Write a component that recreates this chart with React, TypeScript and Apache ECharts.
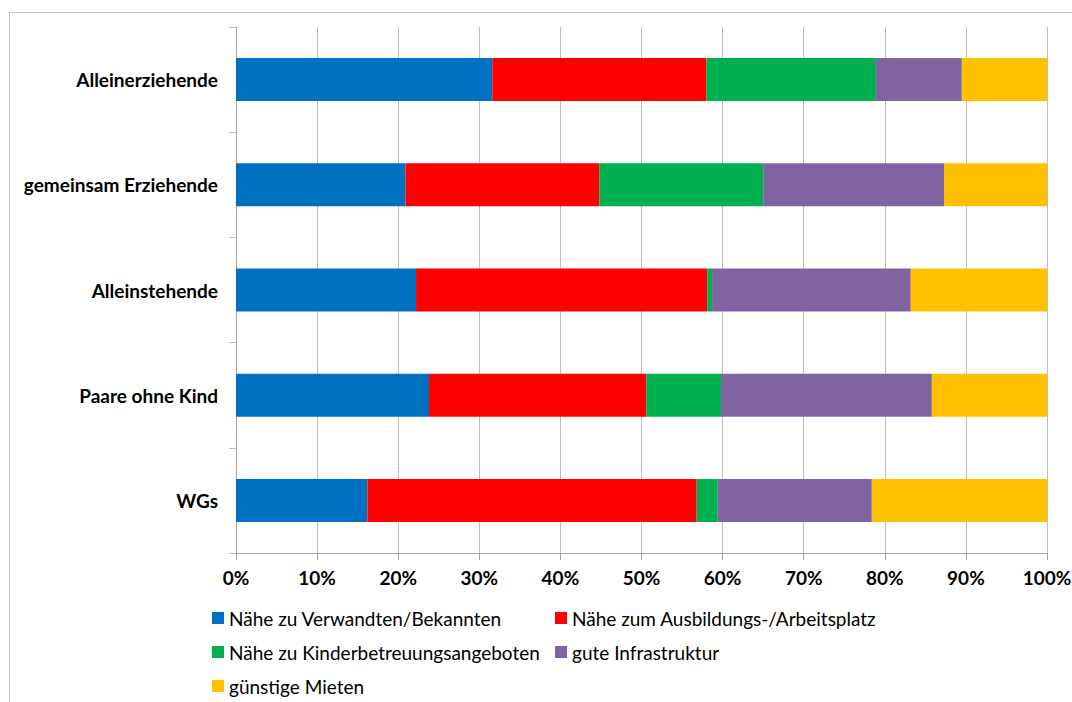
import React, { useEffect, useRef } from "react";
import * as echarts from "echarts";

const categories = ["Alleinerziehende", "gemeinsam Erziehende", "Alleinstehende", "Paare ohne Kind", "WGs"];
const seriesNames = [
  "Nähe zu Verwandten/Bekannten",
  "Nähe zum Ausbildungs-/Arbeitsplatz",
  "Nähe zu Kinderbetreuungsangeboten",
  "gute Infrastruktur",
  "günstige Mieten",
];
const verwandten = [31.6, 20.9, 22.2, 23.8, 16.2];
const arbeitsplatz = [26.4, 23.9, 35.9, 26.8, 40.6];
const kinderbetreuung = [20.9, 20.2, 0.6, 9.2, 2.6];
const infrastruktur = [10.6, 22.3, 24.5, 26.0, 19.0];
const mieten = [10.5, 12.7, 16.8, 14.2, 21.6];
const colors = ["#0070C0", "#FF0000", "#00B050", "#8064A2", "#FFC000"];

const FONT = "Lato";
// legend slot positions: [left, top] per series
const legendSlots = [
  [212, 608],
  [555, 608],
  [212, 642],
  [555, 642],
  [212, 676],
];

export default function App() {
  const ref = useRef<HTMLDivElement>(null);
  useEffect(() => {
    if (!ref.current) return;
    const chart = echarts.init(ref.current, undefined, { renderer: "svg" });
    const values = [verwandten, arbeitsplatz, kinderbetreuung, infrastruktur, mieten];
    const legendText = { fontFamily: FONT, fontSize: 19, color: "#000", lineHeight: 20 };
    chart.setOption({
      animation: false,
      backgroundColor: "#fff",
      graphic: [
        {
          type: "rect",
          shape: { x: 9.5, y: 12.5, width: 1200, height: 800 },
          style: { fill: "none", stroke: "#bfbfbf", lineWidth: 1 },
          silent: true,
        },
      ],
      grid: { left: 236, right: 25, top: 27, bottom: 149, outerBoundsMode: "none", containLabel: false },
      legend: seriesNames.map((name, i) => ({
        data: [name],
        left: legendSlots[i][0],
        top: legendSlots[i][1],
        padding: 0,
        itemWidth: 12,
        itemHeight: 12,
        icon: "rect",
        textStyle: legendText,
      })),
      xAxis: {
        type: "value",
        min: 0,
        max: 100,
        interval: 10,
        axisLine: { show: true, lineStyle: { color: "#a6a6a6" } },
        axisTick: { show: true, length: 7, lineStyle: { color: "#a6a6a6" } },
        splitLine: { show: true, lineStyle: { color: "#bdbdbd" } },
        axisLabel: {
          formatter: "{value}%",
          fontFamily: FONT,
          fontWeight: "bold",
          fontSize: 19,
          color: "#000",
          margin: 15,
        },
      },
      yAxis: {
        type: "category",
        data: categories,
        inverse: true,
        axisLine: { show: true, lineStyle: { color: "#a6a6a6" } },
        axisTick: { show: true, length: 7, lineStyle: { color: "#bfbfbf" } },
        axisLabel: {
          fontFamily: FONT,
          fontWeight: "bold",
          fontSize: 19,
          color: "#000",
          margin: 18,
        },
      },
      series: seriesNames.map((name, i) => ({
        name,
        type: "bar",
        stack: "total",
        data: values[i],
        barWidth: 43,
        itemStyle: { color: colors[i] },
      })),
    });
    return () => chart.dispose();
  }, []);
  return (
    <div
      ref={ref}
      style={{ position: "absolute", left: 0, top: 0, width: 1072, height: 702 }}
    />
  );
}
